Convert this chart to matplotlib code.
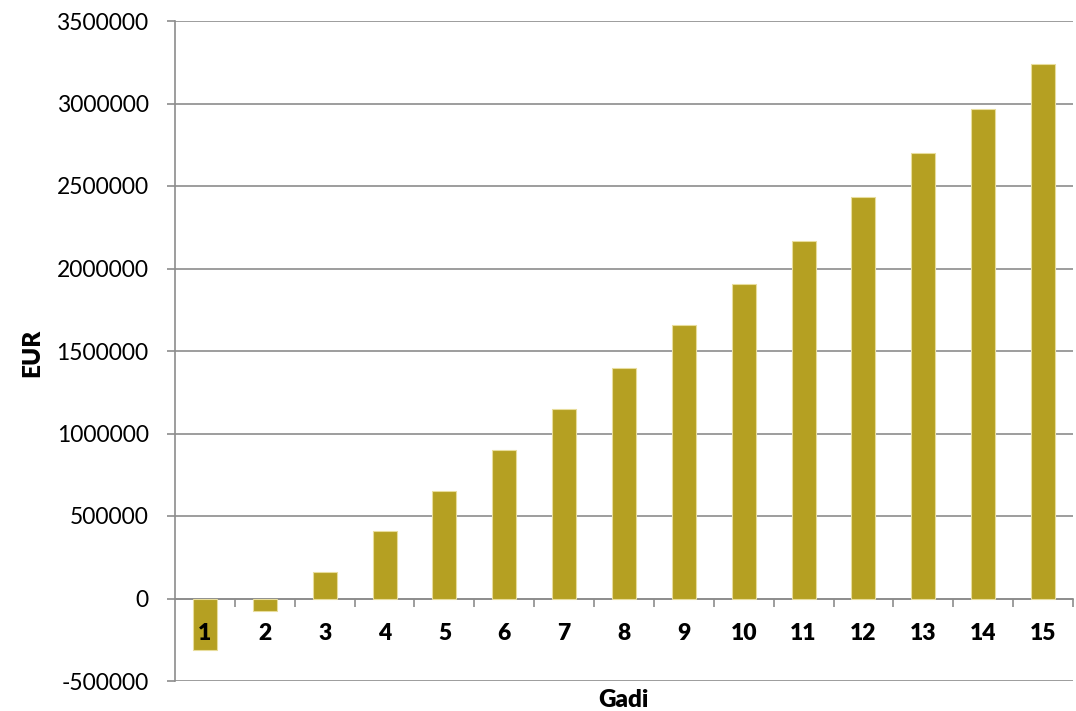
import matplotlib
matplotlib.use("Agg")
import matplotlib.pyplot as plt
from matplotlib.ticker import FixedLocator, FuncFormatter

years = [str(i) for i in range(1, 16)]
values = [-312000, -77000, 162000, 407000, 650000, 897000, 1148000, 1397000,
          1657000, 1907000, 2169000, 2434000, 2699000, 2969000, 3240000]
yticks = [-500000, 0, 500000, 1000000, 1500000, 2000000, 2500000, 3000000, 3500000]

plt.rcParams['font.family'] = ['Lato', 'DejaVu Sans']

fig = plt.figure(figsize=(10.76, 7.11), dpi=100)
ax = fig.add_axes([175/1076, 1-681/711, (1073-175)/1076, (681-21)/711])

x = list(range(len(years)))
ax.bar(x, values, width=0.4, color='#b5a022', edgecolor='#e8dd9c', linewidth=0.8, zorder=3)

ax.set_xlim(-0.5, len(years)-0.5)
ax.set_ylim(yticks[0], yticks[-1])
ax.set_yticks(yticks)
ax.yaxis.set_major_formatter(FuncFormatter(lambda v, p: f"{int(v)}"))
ax.grid(axis='y', color='#8c8c8c', linewidth=1.2, zorder=0)

for s in ['top', 'right']:
    ax.spines[s].set_visible(False)
ax.spines['left'].set_color('#8c8c8c')
ax.spines['left'].set_linewidth(1.2)
ax.spines['bottom'].set_position(('data', 0))
ax.spines['bottom'].set_color('#8c8c8c')
ax.spines['bottom'].set_linewidth(1.2)
ax.spines['bottom'].set_zorder(2)

ax.set_xticks(x)
ax.set_xticklabels(years, fontsize=16.5, fontweight='heavy')
ax.xaxis.set_minor_locator(FixedLocator([i + 0.5 for i in range(len(years))]))
ax.tick_params(axis='x', which='major', length=0, pad=18)
ax.tick_params(axis='x', which='minor', length=6, width=1.2, color='#8c8c8c', direction='out')
ax.tick_params(axis='y', which='major', length=6, width=1.2, color='#8c8c8c', labelsize=16.5, pad=13)
ax.xaxis.set_zorder(5)

fig.text(623/1076, 1-700/711, 'Gadi', ha='center', va='center', fontsize=17.5, fontweight='heavy')
fig.text(32/1076, 1-353/711, 'EUR', ha='center', va='center', fontsize=17.5, fontweight='heavy', rotation=90)

fig.savefig('out.png', dpi=100)
